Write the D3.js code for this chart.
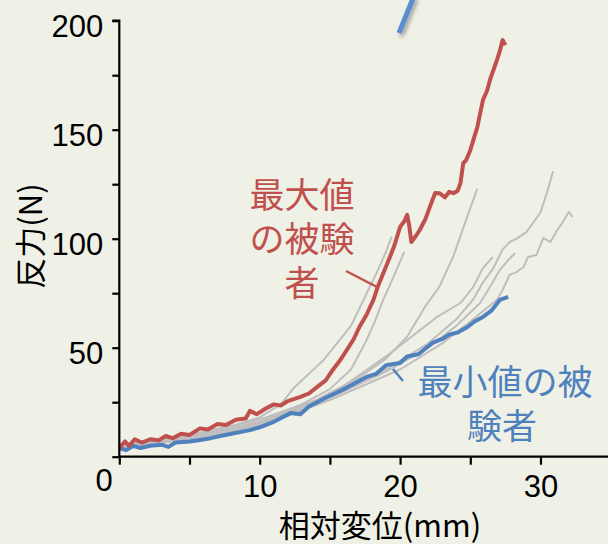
<!DOCTYPE html>
<html><head><meta charset="utf-8">
<script src="https://cdn.jsdelivr.net/npm/d3@7"></script>
<style>
html,body{margin:0;padding:0;background:#F0F1E6;}
svg{display:block;}
</style></head>
<body>
<svg id="c" width="608" height="544"></svg>
<script>
// ---- data (mm, N) ----
const yTicks = [0,25,50,75,100,125,150,175,200];
const yTickLabels = ["","","50","","100","","150","","200"];
const xTicks = [0,5,10,15,20,25,30,35];
const xTickLabels = ["","","10","","20","","30",""];

const redX = [0,0.4,0.7,1.1,1.6,2.2,2.8,3.3,3.8,4.4,5,5.75,6.3,7,7.6,8.3,9,9.3,9.8,10.4,11,11.5,12,12.9,13.5,14.1,14.7,15.2,15.7,16.2,16.7,17.1,17.6,18.1,18.4,19.1,19.6,20.0,20.3,20.5,20.65,20.8,21.1,21.4,21.8,22.3,22.5,22.8,23.2,23.5,23.8,24.1,24.3,24.5,24.7,25.0,25.5,25.9,26.2,26.4,26.9,27.1,27.3,27.5];
const redY = [4,7,5,8,6.5,8,7.5,9.5,8.5,10.5,10,13,12.5,15,14.5,17,17.5,21,19.5,22,24,23.5,25.5,27.4,29,32,35,39.8,44,48.9,54,59.5,65,71.9,77.8,88.8,97,105.4,108,110.9,106,98.5,101,104,109,117.7,121,120.9,119,121.5,120.9,122,125.5,134.7,136,140.6,151.2,163.6,168,172.8,182,186,191.1,188.8];

const blueX = [0,0.5,1,1.5,2.2,3,3.5,4,5,5.75,6.5,7.2,8,9.3,10,11,12.2,12.9,13.5,14.8,16,17.6,18.3,19,20,20.5,21.3,22.3,23,23.5,24.1,24.8,25.3,25.9,26.5,27.1,27.7];
const blueY = [4,3,5,4,5,5.5,4.5,6.5,7,7.7,8.5,9.5,10.5,12.2,13.5,16,20,19.5,23,27.4,31,36.6,38,42,43,46,47,52.2,54,56,57,59.5,62,64.1,67,71.9,73.3];

const g1X = [0,5,8,10,11.5,12.5,13.5,14.5,15.5,16.5,17.4,18.3,19,19.4];
const g1Y = [5,10,14,18,24,32,38,44,52,60,72,84,94,101];
const g2X = [0,5,10,13,15,16.5,17.5,18.2,18.8,19.5,20.3];
const g2Y = [5,10,17,24,31,40,52,62,72,82,94];
const g3X = [0,5,10,14,17,19,20.5,21.8,22.8,23.8,24.5,25.5];
const g3Y = [4,9,16,26,36,45,55,69,78,92,105,123];
const g4X = [0,5,10,15,19,22,24,25.2,25.9,26.6,27.3,27.8,28.3,29,30,30.5,30.9];
const g4Y = [5,9,15,28,40,52,63,72,80,86,95,98.5,100,103,112,122,131];
const g5X = [0,5,10,15,20,23,25,26.9,27.3,27.8,28.3,28.8,29.1,29.7,30.2,30.7,31.2,31.6,32.0,32.3];
const g5Y = [4,8,14,26,40,52,62,72,76.5,83.4,84.7,87,91.6,92.5,100.3,98.5,104,107.7,112.3,110];
const g6X = [0,5,10,15,19,22.6,24.3,25.2,25.9,26.6];
const g6Y = [5,9,15,28,46,64,70.5,77.8,86.5,91.6];
const g7X = [0,5,10,15,19,22,24,25.7,26.4,27.1,27.7,28.2];
const g7Y = [4,8,14,27,39,50,60,70.5,77.8,85.6,90.2,93.4];

const grayX = [g1X,g2X,g3X,g4X,g5X,g6X,g7X];
const grayY = [g1Y,g2Y,g3Y,g4Y,g5Y,g6Y,g7Y];

const redNote = ["最大値","の被験","者"];
const blueNote = ["最小値の被","験者"];
const yTitle = "反力(N)";
const xTitle = "相対変位(mm)";

// ---- drawing ----
const svg = d3.select("#c");
const x = d3.scaleLinear().domain([0,35]).range([119.3, 610.7]);
const y = d3.scaleLinear().domain([0,200]).range([456.7, 20.7]);
const RED="#C0504D", BLUE="#4F81BD", GRAY="#BEBEBE";
const numFont = "'Liberation Sans', Arial, sans-serif";
const jpFont = "'Noto Sans CJK JP', sans-serif";

// decorative arrow fragment at top
const defs = svg.append("defs");
const f = defs.append("filter").attr("id","sh").attr("x","-50%").attr("y","-50%").attr("width","200%").attr("height","200%");
f.append("feDropShadow").attr("dx",2).attr("dy",3).attr("stdDeviation",2).attr("flood-color","#000").attr("flood-opacity",0.35);
svg.append("line").attr("x1",414).attr("y1",-4).attr("x2",399).attr("y2",33)
  .attr("stroke","#5A8ED0").attr("stroke-width",5).attr("filter","url(#sh)");

const line = d3.line().x(d=>x(d[0])).y(d=>y(d[1]));
const zipS = (xs,ys)=>xs.map((v,i)=>[v,ys[i]]);

const plot = svg.append("g");
grayX.forEach((xs,i)=>{
  plot.append("path").datum(zipS(xs,grayY[i])).attr("d",line)
    .attr("fill","none").attr("stroke",GRAY).attr("stroke-width",2).attr("stroke-linejoin","round");
});
plot.append("path").datum(zipS(blueX,blueY)).attr("d",line)
  .attr("fill","none").attr("stroke",BLUE).attr("stroke-width",4).attr("stroke-linejoin","round");
plot.append("path").datum(zipS(redX,redY)).attr("d",line)
  .attr("fill","none").attr("stroke",RED).attr("stroke-width",4).attr("stroke-linejoin","round");

// axes
const yAxis = d3.axisLeft(y).tickValues(yTicks).tickSize(7).tickPadding(9)
  .tickFormat((d,i)=>yTickLabels[i]);
const gy = svg.append("g").attr("transform",`translate(${x(0)},0)`).call(yAxis);
const xAxis = d3.axisBottom(x).tickValues(xTicks).tickSize(8).tickPadding(9)
  .tickFormat((d,i)=>xTickLabels[i]);
const gx = svg.append("g").attr("transform",`translate(0,${y(0)})`).call(xAxis);
[gx,gy].forEach(g=>{
  g.select(".domain").attr("stroke","#000").attr("stroke-width",2.2);
  g.selectAll(".tick line").attr("stroke","#000").attr("stroke-width",2.2);
  g.selectAll(".tick text").attr("fill","#000").style("font-family",numFont).style("font-size","31px");
});
gy.select(".domain").attr("d",`M-7,${y(200)}H0V${y(0)}`);
gx.select(".domain").attr("d",`M${x(0)},0H608`);
gy.selectAll(".tick text").attr("dy","0.52em");
gx.selectAll(".tick text").attr("dy","0.76em");
// origin label
svg.append("text").attr("x",104).attr("y",491).attr("text-anchor","middle")
  .style("font-family",numFont).style("font-size","31px").text("0");

// titles
svg.append("text").attr("transform","translate(42,236) rotate(-90)").attr("text-anchor","middle")
  .style("font-family",jpFont).style("font-size","31px").attr("fill","#000").text(yTitle);
svg.append("text").attr("x",380).attr("y",537).attr("text-anchor","middle")
  .style("font-family",jpFont).style("font-size","31px").attr("fill","#000").text(xTitle);

// annotations
const rn = svg.append("text").attr("text-anchor","middle").style("font-family",jpFont)
  .style("font-size","35px").attr("fill",RED);
redNote.forEach((t,i)=>rn.append("tspan").attr("x",302).attr("y",208+i*44).text(t));
svg.append("line").attr("x1",346).attr("y1",271).attr("x2",377).attr("y2",287)
  .attr("stroke",RED).attr("stroke-width",2.5);

const bn = svg.append("text").attr("text-anchor","middle").style("font-family",jpFont)
  .style("font-size","35px").attr("fill",BLUE);
bn.append("tspan").attr("x",505).attr("y",395).text(blueNote[0]);
bn.append("tspan").attr("x",502).attr("y",439).text(blueNote[1]);
svg.append("line").attr("x1",393).attr("y1",369).attr("x2",403).attr("y2",381)
  .attr("stroke",BLUE).attr("stroke-width",2.5);
</script>
</body></html>
